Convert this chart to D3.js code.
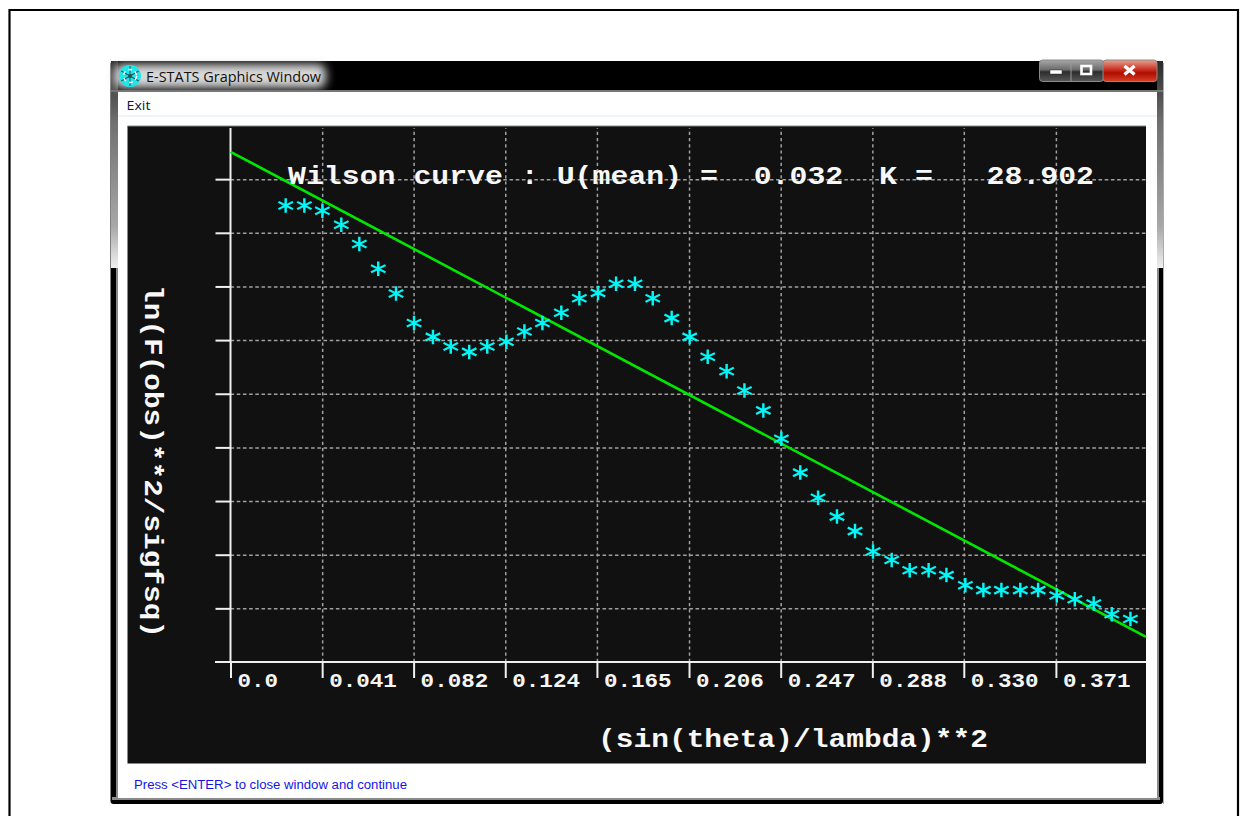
<!DOCTYPE html>
<html>
<head>
<meta charset="utf-8">
<script src="https://cdnjs.cloudflare.com/ajax/libs/d3/7.8.5/d3.min.js"></script>
<style>
html,body{margin:0;padding:0;background:#fff;overflow:hidden}
svg{display:block}
</style>
</head>
<body>
<svg id="c" width="1248" height="816"></svg>
<script>
const chartTitle = "Wilson curve : U(mean) =  0.032  K =   28.902";
const xTitle = "(sin(theta)/lambda)**2";
const yTitle = "ln(F(obs)**2/sigfsq)";
const windowTitle = "E-STATS Graphics Window";
const menuLabel = "Exit";
const statusLabel = "Press <ENTER> to close window and continue";

const xTickValues = [0, 0.0412, 0.0823, 0.1235, 0.1647, 0.2061, 0.2473, 0.2885, 0.3296, 0.3710];
const xTickLabels = ["0.0", "0.041", "0.082", "0.124", "0.165", "0.206", "0.247", "0.288", "0.330", "0.371"];
const yTickValues = [1, 2, 3, 4, 5, 6, 7, 8, 9];

const sThetaL = [0.0248,0.0332,0.0413,0.0498,0.0579,0.0664,0.0744,0.0825,0.0910,0.0990,
  0.1073,0.1154,0.1240,0.1321,0.1402,0.1487,0.1568,0.1652,0.1733,0.1818,
  0.1898,0.1983,0.2064,0.2145,0.2230,0.2310,0.2395,0.2476,0.2561,0.2641,
  0.2726,0.2807,0.2888,0.2972,0.3053,0.3138,0.3218,0.3303,0.3384,0.3465,
  0.3550,0.3630,0.3714,0.3795,0.3880,0.3961,0.4045];
const lnF = [8.51,8.51,8.41,8.15,7.79,7.33,6.87,6.32,6.06,5.88,
  5.78,5.88,5.97,6.16,6.32,6.51,6.78,6.88,7.05,7.05,
  6.78,6.41,6.06,5.69,5.42,5.06,4.69,4.16,3.53,3.06,
  2.71,2.44,2.06,1.90,1.71,1.71,1.62,1.43,1.34,1.34,
  1.34,1.34,1.24,1.17,1.09,0.89,0.80];
const fitX = [0, 0.4115];
const fitY = [9.51, 0.47];

const svg = d3.select("#c");
const defs = svg.append("defs");
const grad = (id, stops, vertical=true) => {
  const g = defs.append("linearGradient").attr("id", id)
    .attr("x1",0).attr("y1",0).attr("x2",vertical?0:1).attr("y2",vertical?1:0);
  stops.forEach(s => g.append("stop").attr("offset", s[0]).attr("stop-color", s[1]));
};
grad("side", [[0,"#2a2a2a"],[0.3,"#707070"],[0.8,"#a8a8a8"],[1,"#f0f0f0"]]);
grad("red", [[0,"#e8a090"],[0.45,"#c83020"],[0.6,"#b00c00"],[1,"#d84028"]]);
grad("btn", [[0,"#a8a8a8"],[0.45,"#6c6c6c"],[0.55,"#2c2c2c"],[1,"#585858"]]);
defs.append("filter").attr("id","blur").attr("x","-20%").attr("y","-50%").attr("width","140%").attr("height","200%")
  .append("feGaussianBlur").attr("stdDeviation",5);

// page frame
svg.append("path").attr("d","M9.5,816V10H1238V816").attr("fill","none").attr("stroke","#000").attr("stroke-width",2.2);

// window chrome
const chrome = svg.append("g");
chrome.append("rect").attr("x",110.5).attr("y",61).attr("width",1052.5).attr("height",743).attr("rx",3).attr("fill","#000");
chrome.append("rect").attr("x",111).attr("y",61).attr("width",7).attr("height",207).attr("fill","url(#side)");
chrome.append("rect").attr("x",1157).attr("y",61).attr("width",6).attr("height",207).attr("fill","url(#side)");
chrome.append("rect").attr("x",116).attr("y",268).attr("width",2).attr("height",532).attr("fill","#8a8a8a");
chrome.append("rect").attr("x",1157).attr("y",268).attr("width",2).attr("height",532).attr("fill","#8a8a8a");
chrome.append("rect").attr("x",1163).attr("y",63).attr("width",1).attr("height",741).attr("fill","#4fd0e8");
chrome.append("rect").attr("x",112).attr("y",797).attr("width",1048).attr("height",3).attr("fill","#8a8a8a");
chrome.append("rect").attr("x",114).attr("y",64).attr("width",212).attr("height",24).attr("rx",8)
  .attr("fill","#d8d8d8").attr("filter","url(#blur)");
chrome.append("rect").attr("x",111).attr("y",90).attr("width",1052).attr("height",2).attr("fill","#777");
chrome.append("rect").attr("x",118).attr("y",92).attr("width",1039).attr("height",706).attr("fill","#fff");
chrome.append("rect").attr("x",118).attr("y",115.5).attr("width",1039).attr("height",1).attr("fill","#e2eaf8");

// icon
const icon = chrome.append("g").attr("transform","translate(130,76)");
icon.append("circle").attr("r",11).attr("fill","#1fe6ea");
d3.range(6).forEach(i => {
  icon.append("line").attr("x2",0).attr("y2",-10).attr("stroke","#24505a").attr("stroke-width",1)
    .attr("transform",`rotate(${i*60})`);
});
icon.append("circle").attr("r",2).attr("fill","#24505a");
icon.append("circle").attr("r",6.5).attr("fill","none").attr("stroke","#ffffff").attr("stroke-width",1.4).attr("stroke-dasharray","4 3");

chrome.append("text").text(windowTitle).attr("x",146).attr("y",82)
  .attr("font-family","'Open Sans'").attr("font-size",14).attr("fill","#101010")
  .attr("textLength",175).attr("lengthAdjust","spacingAndGlyphs");
chrome.append("text").text(menuLabel).attr("x",126.5).attr("y",110)
  .attr("font-family","'Open Sans'").attr("font-size",13.5).attr("fill","#101830")
  .attr("textLength",24).attr("lengthAdjust","spacingAndGlyphs");

// caption buttons
chrome.append("rect").attr("x",1039.5).attr("y",60).attr("width",64).attr("height",21.5).attr("rx",3)
  .attr("fill","url(#btn)").attr("stroke","#8a8a8a");
chrome.append("rect").attr("x",1103).attr("y",60).attr("width",54).attr("height",21.5).attr("rx",3)
  .attr("fill","url(#red)").attr("stroke","#8a8a8a");
chrome.append("line").attr("x1",1071).attr("x2",1071).attr("y1",61).attr("y2",81).attr("stroke","#9a9a9a");
chrome.append("rect").attr("x",1050).attr("y",70).attr("width",12).attr("height",4).attr("fill","#fff").attr("stroke","#333").attr("stroke-width",.5);
chrome.append("rect").attr("x",1081.5).attr("y",66).attr("width",9.5).attr("height",8).attr("fill","none").attr("stroke","#fff").attr("stroke-width",2.6);
chrome.append("path").attr("d","M1124.5,66L1134.5,74.5M1134.5,66L1124.5,74.5").attr("stroke","#fff").attr("stroke-width",3.4);

// plot
const plot = svg.append("g");
plot.append("rect").attr("x",127.5).attr("y",126).attr("width",1018.5).attr("height",637.5)
  .attr("fill","#111111");
plot.append("line").attr("x1",127.5).attr("x2",1146).attr("y1",126).attr("y2",126).attr("stroke","#888");

const x = d3.scaleLinear().domain([0,0.4115]).range([230.5,1146]);
const y = d3.scaleLinear().domain([0,10]).range([662,125.5]);

// grid, from the axis generators
const gridX = plot.append("g").attr("transform","translate(0,662)")
  .call(d3.axisBottom(x).tickValues(xTickValues.slice(1)).tickSize(-534).tickFormat(""));
gridX.select(".domain").remove();
gridX.selectAll("line").attr("stroke","#a0a0a0").attr("stroke-width",1.5).attr("stroke-dasharray","3.2 3");
const gridY = plot.append("g").attr("transform","translate(230.5,0)")
  .call(d3.axisRight(y).tickValues(yTickValues).tickSize(915.5).tickFormat(""));
gridY.select(".domain").remove();
gridY.selectAll("line").attr("stroke","#a0a0a0").attr("stroke-width",1.5).attr("stroke-dasharray","3.6 2.6");

// axes
const axX = plot.append("g").attr("transform","translate(0,662)")
  .call(d3.axisBottom(x).tickValues(xTickValues).tickSize(16).tickSizeOuter(0)
    .tickFormat((d,i)=>xTickLabels[i]));
axX.select(".domain").remove();
axX.selectAll(".tick line").attr("stroke","#f0f0f0").attr("stroke-width",2);
axX.selectAll(".tick text")
  .attr("text-anchor","start").attr("x",6.5).attr("y",25).attr("dy",0)
  .attr("fill","#f6f6f6").attr("font-family","'Liberation Mono'").attr("font-weight","bold").attr("font-size",20)
  .attr("textLength",(d,i)=>xTickLabels[i].length*13.55).attr("lengthAdjust","spacingAndGlyphs");
plot.append("line").attr("x1",215).attr("x2",1146).attr("y1",662).attr("y2",662).attr("stroke","#f0f0f0").attr("stroke-width",2);

const axY = plot.append("g").attr("transform","translate(230.5,0)")
  .call(d3.axisLeft(y).tickValues(yTickValues).tickSize(15).tickFormat(""));
axY.select(".domain").remove();
axY.selectAll(".tick line").attr("stroke","#f0f0f0").attr("stroke-width",2);
plot.append("line").attr("x1",230.5).attr("x2",230.5).attr("y1",128).attr("y2",662).attr("stroke","#f0f0f0").attr("stroke-width",2);

// fit line
plot.append("path").datum(fitX.map((v,i)=>[v,fitY[i]]))
  .attr("d",d3.line().x(d=>x(d[0])).y(d=>y(d[1])))
  .attr("fill","none").attr("stroke","#00e800").attr("stroke-width",2.6);

// points
const star = d3.symbol().type(d3.symbolAsterisk).size(175);
plot.append("g").selectAll("path").data(sThetaL).join("path")
  .attr("d",star)
  .attr("transform",(d,i)=>`translate(${x(d)},${y(lnF[i])}) scale(1.06,0.92)`)
  .attr("fill","none").attr("stroke","#00f8f8").attr("stroke-width",2.3);

// labels
const mono = (sel,len) => sel.attr("fill","#f8f8f8")
  .attr("font-family","'Liberation Mono'").attr("font-weight","bold").attr("font-size",26)
  .attr("xml:space","preserve").style("white-space","pre")
  .attr("textLength",len).attr("lengthAdjust","spacingAndGlyphs");
mono(plot.append("text").text(chartTitle).attr("x",288).attr("y",184),806);
mono(plot.append("text").text(xTitle).attr("x",598).attr("y",747),390);
mono(plot.append("text").text(yTitle).attr("transform","translate(145,285) rotate(90)"),353);

// status bar
svg.append("text").text(statusLabel).attr("x",134).attr("y",789)
  .attr("font-family","'Liberation Sans'").attr("font-size",12).attr("fill","#1414e6")
  .attr("textLength",273).attr("lengthAdjust","spacingAndGlyphs");
</script>
</body>
</html>
